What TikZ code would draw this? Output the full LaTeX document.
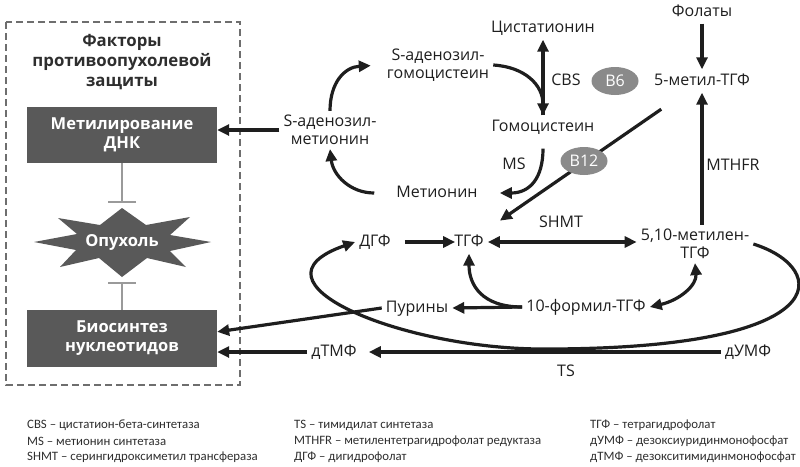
\documentclass[tikz,border=0pt]{standalone}
\usepackage{fontspec}
\setmainfont{Open Sans}
\newfontfamily\legendfont{Carlito}
\usepackage{tikz}
\usetikzlibrary{arrows.meta}
\usetikzlibrary{shapes.geometric}

\definecolor{boxgray}{HTML}{595959}
\definecolor{vitgray}{HTML}{8A8A8A}
\definecolor{bargray}{HTML}{9A9A9A}
\definecolor{framegray}{HTML}{6E6E6E}
\definecolor{inkgray}{HTML}{1E1E1E}
\definecolor{leggray}{HTML}{2E2E2E}

\begin{document}
\begin{tikzpicture}[x=1pt, y=-1pt,
        every node/.style={font=\fontsize{16}{18}\selectfont, text=inkgray, inner sep=4pt},
        lbl/.style={text height=11.5pt, text depth=3.5pt},
        two/.style={align=center},
        arr/.style={draw=inkgray, line width=3.2pt, -{Triangle[length=12pt,width=11pt]}},
        dbl/.style={draw=inkgray, line width=3.2pt, {Triangle[length=12pt,width=11pt]}-{Triangle[length=12pt,width=11pt]}},
        darkbox/.style={fill=boxgray, text=white, font=\bfseries\fontsize{16.5}{19}\selectfont, align=center, minimum width=190pt},
        vitamin/.style={ellipse, fill=vitgray, text=white, minimum width=47pt, minimum height=28pt, inner sep=0pt},
        inhib/.style={draw=bargray, line width=2pt, -{Bar[width=28pt, line width=2pt]}, shorten >=5pt},
        legend/.style={anchor=west, text=leggray, font=\legendfont\fontsize{12.8}{14}\selectfont, inner sep=0pt}]
        \useasboundingbox (0,0) rectangle (800,466);

        \draw [framegray, line width=2pt, dash pattern=on 7pt off 4pt] (6,22) rectangle (240,385);
        \node (title) at (122,62) [two, text=leggray, font=\bfseries\fontsize{16.8}{20}\selectfont] {Факторы\\противоопухолевой\\защиты};
        \node (dnameth) at (122,135) [darkbox, minimum height=56pt] {Метилирование\\ДНК};
        \node (nucl) at (122,338.5) [darkbox, minimum height=57pt] {Биосинтез\\нуклеотидов};

        \fill [boxgray] (122,208) -- (146,225) -- (190,217) -- (170,235) -- (211,242) -- (170,251)
            -- (186,267) -- (147,258) -- (122,277) -- (99,258) -- (60,267) -- (76,250)
            -- (34,242) -- (77,234) -- (58,218) -- (100,225) -- cycle;
        \node (tumor) at (122,242.5) [minimum width=175pt, minimum height=69pt, text=white, font=\bfseries\fontsize{16.5}{18}\selectfont] {Опухоль};

        \draw [inhib] (dnameth.south) -- (tumor.north);
        \draw [inhib] (nucl.north) -- (tumor.south);

        \node (folates) at (702,12) [lbl] {Фолаты};
        \node (cysta) at (543,28) [lbl] {Цистатионин};
        \node (sah) at (438,65) [two] {S-аденозил-\\гомоцистеин};
        \node (cbs) at (566,81) [lbl] {CBS};
        \node (bsix) at (615,81) [vitamin] {B6};
        \node (methf) at (702,81) [lbl] {5-метил-ТГФ};
        \node (homocys) at (543,127) [lbl] {Гомоцистеин};
        \node (sam) at (330,130) [two] {S-аденозил-\\метионин};
        \node (ms) at (514,165) [lbl] {MS};
        \node (mthfr) at (733,166) [lbl] {MTHFR};
        \node (met) at (437,193) [lbl] {Метионин};
        \node (dhf) at (375,242) [lbl] {ДГФ};
        \node (thf) at (469,242) [lbl] {ТГФ};
        \node (shmt) at (561,223) [lbl] {SHMT};
        \node (mthf) at (695,244) [two] {5,10-метилен-\\ТГФ};
        \node (pur) at (417,308) [lbl] {Пурины};
        \node (fthf) at (586,307) [lbl] {10-формил-ТГФ};
        \node (dtmp) at (334,352) [lbl] {дТМФ};
        \node (dump) at (748,352) [lbl] {дУМФ};
        \node (ts) at (566,372) [lbl] {TS};

        \draw [arr] (folates.south) -- (methf.north);
        \draw [arr] (mthf.north -| methf.south) -- (methf.south);
        \draw [arr, shorten <=29pt, shorten >=17pt] (methf) -- (thf);
        \node (btwelve) at (584,161) [vitamin] {B12};

        \draw [arr] (homocys.north) -- (cysta.south);
        \draw [arr] (sah.east) .. controls (525,67) and (543,85) .. (homocys.north);
        \draw [arr, shorten <=10pt, shorten >=18pt] (homocys.south) .. controls (543,178) and (530,193) .. (met.east);
        \draw [arr, shorten <=18pt] (met.west) .. controls (350,193) and (333,175) .. (sam.south);
        \draw [arr, shorten >=12pt] (sam.north) .. controls (330,82) and (345,67) .. (sah.west);
        \draw [arr] (sam.west) -- (dnameth.east |- sam.west);

        \draw [arr, shorten <=10pt, shorten >=-5pt] (dhf.east) -- (thf.west);
        \draw [dbl] (thf.east) -- (thf.east -| mthf.west);
        \draw [arr] (fthf.west) -- (pur.east);
        \draw [arr] (fthf.west) .. controls (482,307) and (469,285) .. (thf.south);
        \draw [dbl] (fthf.east) .. controls (680,300) and (697,285) .. (mthf.south);
        \draw [arr] (mthf.east) .. controls (830,268) and (840,350) .. (540,349)
            .. controls (400,348) and (240,282) .. (dhf.west);

        \draw [arr, shorten >=8pt] (dump.west) -- (dtmp.east);
        \draw [arr] (dtmp.west) -- (nucl.east |- dtmp.west);
        \draw [arr] (pur.west) -- (nucl.4);

        \node (leg1) at (27,425) [legend] {CBS – цистатион-бета-синтетаза};
        \node (leg2) at (27,441) [legend] {MS – метионин синтетаза};
        \node (leg3) at (27,457) [legend] {SHMT – серингидроксиметил трансфераза};
        \node (leg4) at (294,425) [legend] {TS – тимидилат синтетаза};
        \node (leg5) at (294,441) [legend] {MTHFR – метилентетрагидрофолат редуктаза};
        \node (leg6) at (294,457) [legend] {ДГФ – дигидрофолат};
        \node (leg7) at (590,425) [legend] {ТГФ – тетрагидрофолат};
        \node (leg8) at (590,441) [legend] {дУМФ – дезоксиуридинмонофосфат};
        \node (leg9) at (590,457) [legend] {дТМФ – дезокситимидинмонофосфат};
    \end{tikzpicture}
\end{document}
